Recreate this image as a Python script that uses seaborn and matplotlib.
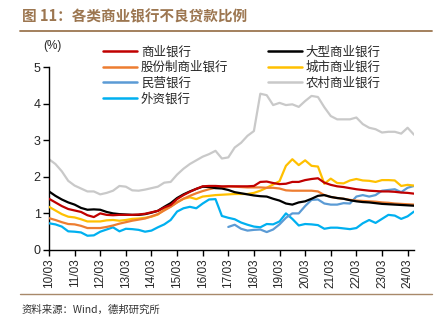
import numpy as np
import pandas as pd
import matplotlib
matplotlib.use("Agg")
import matplotlib.pyplot as plt
from matplotlib.lines import Line2D
import seaborn as sns

# Quarterly NPL ratios (%), 2010Q1 - 2024Q2
quarters = [f"{y % 100:02d}/{m:02d}" for y in range(2010, 2025) for m in (3, 6, 9, 12)][:58]

commercial = [1.40, 1.30, 1.20, 1.12, 1.08, 1.04, 0.95, 0.90, 1.00, 0.96,
              0.95, 0.96, 0.96, 0.96, 0.97, 0.99, 1.03, 1.07, 1.16, 1.23,
              1.39, 1.50, 1.59, 1.67, 1.74, 1.75, 1.75, 1.74, 1.74, 1.74,
              1.74, 1.74, 1.75, 1.86, 1.87, 1.83, 1.80, 1.81, 1.86, 1.86,
              1.91, 1.94, 1.96, 1.84, 1.78, 1.74, 1.72, 1.69, 1.66, 1.64,
              1.62, 1.61, 1.60, 1.60, 1.59, 1.57, 1.56, 1.54]
large = [1.60, 1.48, 1.38, 1.30, 1.24, 1.15, 1.10, 1.11, 1.10, 1.04,
         1.00, 0.98, 0.97, 0.96, 0.96, 0.98, 1.02, 1.07, 1.18, 1.28,
         1.42, 1.52, 1.60, 1.67, 1.73, 1.72, 1.69, 1.68, 1.64, 1.58,
         1.55, 1.52, 1.49, 1.47, 1.46, 1.40, 1.35, 1.27, 1.24, 1.30,
         1.33, 1.40, 1.48, 1.50, 1.45, 1.42, 1.40, 1.36, 1.33, 1.31,
         1.30, 1.28, 1.26, 1.25, 1.24, 1.23, 1.22, 1.21]
joint_stock = [0.87, 0.82, 0.76, 0.71, 0.70, 0.66, 0.60, 0.60, 0.60, 0.63,
               0.67, 0.72, 0.76, 0.80, 0.83, 0.86, 0.92, 0.98, 1.08, 1.18,
               1.30, 1.40, 1.48, 1.55, 1.61, 1.66, 1.70, 1.71, 1.74, 1.73,
               1.72, 1.71, 1.71, 1.71, 1.70, 1.70, 1.68, 1.63, 1.62, 1.62,
               1.62, 1.62, 1.60, 1.50, 1.45, 1.42, 1.40, 1.37, 1.35, 1.34,
               1.33, 1.32, 1.30, 1.29, 1.27, 1.26, 1.25, 1.24]
city = [1.18, 1.08, 0.98, 0.91, 0.89, 0.84, 0.78, 0.78, 0.78, 0.81,
        0.82, 0.80, 0.82, 0.85, 0.86, 0.88, 0.91, 0.97, 1.10, 1.19,
        1.30, 1.40, 1.44, 1.39, 1.46, 1.48, 1.50, 1.51, 1.52, 1.53,
        1.53, 1.53, 1.56, 1.62, 1.70, 1.79, 1.88, 2.30, 2.48, 2.32,
        2.45, 2.30, 2.28, 1.81, 1.95, 1.83, 1.82, 1.90, 1.94, 1.90,
        1.89, 1.86, 1.91, 1.91, 1.90, 1.75, 1.78, 1.76]
rural = [2.48, 2.35, 2.15, 1.89, 1.76, 1.68, 1.60, 1.60, 1.52, 1.56,
         1.62, 1.75, 1.73, 1.63, 1.62, 1.65, 1.69, 1.73, 1.84, 1.86,
         2.06, 2.22, 2.35, 2.45, 2.55, 2.62, 2.71, 2.50, 2.53, 2.80,
         2.93, 3.12, 3.25, 4.27, 4.23, 3.96, 4.02, 3.96, 3.98, 3.91,
         4.07, 4.21, 4.18, 3.90, 3.66, 3.57, 3.57, 3.57, 3.62, 3.44,
         3.34, 3.30, 3.21, 3.23, 3.23, 3.18, 3.34, 3.15]
# private banks are reported from 2017Q1 onwards
private = [0.63, 0.69, 0.58, 0.53, 0.55, 0.56, 0.49, 0.56, 0.70, 0.88,
           1.00, 1.00, 1.20, 1.37, 1.38, 1.27, 1.24, 1.24, 1.28, 1.27,
           1.46, 1.50, 1.46, 1.50, 1.62, 1.64, 1.66, 1.58, 1.70, 1.75]
foreign = [0.73, 0.70, 0.64, 0.51, 0.50, 0.48, 0.39, 0.40, 0.50, 0.56,
           0.62, 0.51, 0.58, 0.57, 0.55, 0.50, 0.53, 0.62, 0.70, 0.82,
           1.05, 1.14, 1.18, 1.14, 1.27, 1.38, 1.39, 0.93, 0.88, 0.84,
           0.75, 0.69, 0.64, 0.62, 0.71, 0.70, 0.78, 1.00, 0.85, 0.67,
           0.71, 0.70, 0.68, 0.58, 0.61, 0.61, 0.59, 0.57, 0.60, 0.73,
           0.82, 0.74, 0.85, 0.96, 0.94, 0.85, 0.92, 1.05]

series_names = ["商业银行", "股份制商业银行", "民营银行", "外资银行",
                "大型商业银行", "城市商业银行", "农村商业银行"]
series_values = [commercial, joint_stock, private, foreign, large, city, rural]
colors = ["#C00000", "#ED7D31", "#5B9BD5", "#00B0F0",
          "#000000", "#FFC000", "#C9C9C9"]

n = len(quarters)
frames = []
for name, vals in zip(series_names, series_values):
    start = n - len(vals)
    frames.append(pd.DataFrame({"idx": np.arange(start, n),
                                "value": vals, "series": name}))
df = pd.concat(frames, ignore_index=True)

sns.set_theme(style="white")
plt.rcParams["font.family"] = ["Noto Sans CJK SC", "DejaVu Sans"]

W, H = 439, 328
fig = plt.figure(figsize=(W / 100, H / 100), dpi=100)
ax = fig.add_axes([49 / W, 1 - 250 / H, (414 - 49) / W, (250 - 67) / H])

draw_order = ["农村商业银行", "外资银行", "民营银行", "城市商业银行",
              "股份制商业银行", "大型商业银行", "商业银行"]
sns.lineplot(data=df, x="idx", y="value", hue="series",
             hue_order=series_names, palette=dict(zip(series_names, colors)),
             linewidth=1.6, ax=ax, legend=False, estimator=None)
# put lines in the desired stacking order
for line, name in zip(ax.get_lines(), series_names):
    line.set_zorder(2 + draw_order.index(name))

ax.set_xlim(0, n - 1)
ax.set_ylim(0, 5)
ax.set_xlabel("")
ax.set_ylabel("")
tick_pos = list(range(0, n, 4))
ax.set_xticks(tick_pos)
ax.set_xticklabels([quarters[i] for i in tick_pos], rotation=90,
                   fontsize=8.5, family="Liberation Sans")
ax.set_yticks([0, 1, 2, 3, 4, 5])
ax.set_yticklabels(["0", "1", "2", "3", "4", "5"], fontsize=9,
                   family="Liberation Sans")
ax.tick_params(axis="both", direction="out", length=4, width=1,
               color="black", pad=2, left=True, bottom=True)
for side in ("top", "right"):
    ax.spines[side].set_visible(False)
for side in ("left", "bottom"):
    ax.spines[side].set_color("black")
    ax.spines[side].set_linewidth(1)

handles = [Line2D([], [], color=c, lw=1.8) for c in colors]
fig.legend(handles, series_names, ncol=2, frameon=False,
           loc="upper left", bbox_to_anchor=(97 / W, 1 - 39 / H),
           fontsize=9, handlelength=2.7, handletextpad=0.3,
           labelspacing=0.22, columnspacing=3.2, borderpad=0)

fig.text(52 / W, 1 - 46 / H, "(%)", ha="center", va="center",
         fontsize=8.5, family="Liberation Sans")

brown = "#9C7650"
fig.text(22 / W, 1 - 16 / H, "图 11：各类商业银行不良贷款比例",
         ha="left", va="center", fontsize=10.5, fontweight="bold",
         color=brown)
fig.add_artist(Line2D([20 / W, 432 / W], [1 - 31 / H] * 2,
                      color=brown, lw=1.3))
fig.add_artist(Line2D([20 / W, 432 / W], [1 - 294 / H] * 2,
                      color="#A8896A", lw=1.0))
fig.text(22 / W, 1 - 310 / H, "资料来源：Wind，德邦研究所",
         ha="left", va="center", fontsize=7.5, color="#333333")

fig.savefig("out.png", dpi=100)
